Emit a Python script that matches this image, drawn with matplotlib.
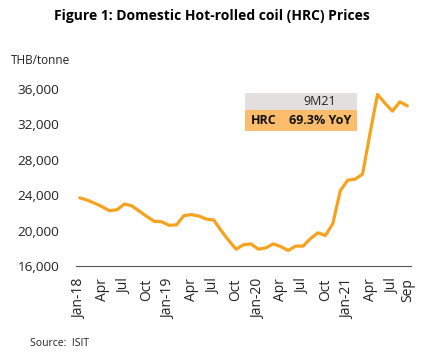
import matplotlib
matplotlib.use("Agg")
import matplotlib.pyplot as plt
from matplotlib.patches import Rectangle

months = ["Jan-18","Feb-18","Mar-18","Apr-18","May-18","Jun-18","Jul-18","Aug-18","Sep-18","Oct-18","Nov-18","Dec-18",
          "Jan-19","Feb-19","Mar-19","Apr-19","May-19","Jun-19","Jul-19","Aug-19","Sep-19","Oct-19","Nov-19","Dec-19",
          "Jan-20","Feb-20","Mar-20","Apr-20","May-20","Jun-20","Jul-20","Aug-20","Sep-20","Oct-20","Nov-20","Dec-20",
          "Jan-21","Feb-21","Mar-21","Apr-21","May-21","Jun-21","Jul-21","Aug-21","Sep-21"]
hrc_price = [23700, 23450, 23100, 22700, 22250, 22350, 23000, 22800, 22200, 21600, 21050, 21000,
             20600, 20650, 21700, 21800, 21650, 21300, 21200, 20000, 18900, 17900, 18400, 18500,
             17900, 18050, 18500, 18200, 17750, 18250, 18250, 19100, 19750, 19450, 20800, 24500,
             25700, 25800, 26400, 31000, 35400, 34400, 33500, 34550, 34100]
tick_idx = [0, 3, 6, 9, 12, 15, 18, 21, 24, 27, 30, 33, 36, 39, 42, 44]
tick_labels = ["Jan-18","Apr","Jul","Oct","Jan-19","Apr","Jul","Oct","Jan-20","Apr","Jul","Oct","Jan-21","Apr","Jul","Sep"]
y_ticks = [16000, 20000, 24000, 28000, 32000, 36000]

plt.rcParams['font.family'] = ['Open Sans', 'DejaVu Sans']

W, H = 435, 357
fig = plt.figure(figsize=(W/100, H/100), dpi=100)
ax = fig.add_axes([76/W, 1-266/H, (411-76)/W, (266-89)/H])

x = list(range(len(months)))
ax.plot(x, hrc_price, color='#F5A31F', lw=2.3, solid_joinstyle='round', solid_capstyle='round')
ax.set_xlim(-0.5, len(months)-0.5)
ax.set_ylim(16000, 36000)
ax.set_yticks(y_ticks)
ax.set_yticklabels([f"{v:,}" for v in y_ticks], fontsize=9.7, color='#222222')
ax.set_xticks(tick_idx)
ax.set_xticklabels(tick_labels, rotation=90, fontsize=10, color='#222222')
ax.tick_params(axis='both', length=0)
ax.tick_params(axis='y', pad=12)
ax.tick_params(axis='x', pad=9)
for s in ['top', 'right', 'left']:
    ax.spines[s].set_visible(False)
ax.spines['bottom'].set_color('#555555')
ax.spines['bottom'].set_linewidth(0.8)

# annotation box
def px(xp, yp):
    return xp/W, 1-yp/H
x0, x1 = 245, 357
fig.patches.append(Rectangle(px(x0, 109.7), (x1-x0)/W, (109.7-93)/H, transform=fig.transFigure,
                             facecolor='#E3DFDF', edgecolor='none'))
fig.patches.append(Rectangle(px(x0, 131.3), (x1-x0)/W, (131.3-109.7)/H, transform=fig.transFigure,
                             facecolor='#FBBD6B', edgecolor='none'))
fig.text(*px(320, 101.5), "9M21", ha='center', va='center', fontsize=9, color='#222222')
fig.text(*px(264, 120.5), "HRC", ha='center', va='center', fontsize=9, fontweight='bold', color='#111111')
fig.text(*px(320, 120.5), "69.3% YoY", ha='center', va='center', fontsize=9, fontweight='bold', color='#111111')

fig.text(*px(212, 16), "Figure 1: Domestic Hot-rolled coil (HRC) Prices", ha='center', va='center',
         fontsize=10, fontweight='bold', color='#000000')
fig.text(*px(11, 60), "THB/tonne", ha='left', va='center', fontsize=8.5, color='#222222')
fig.text(*px(30, 344), "Source:  ISIT", ha='left', va='center', fontsize=7.5, color='#222222')

fig.savefig("out.png", dpi=100)
